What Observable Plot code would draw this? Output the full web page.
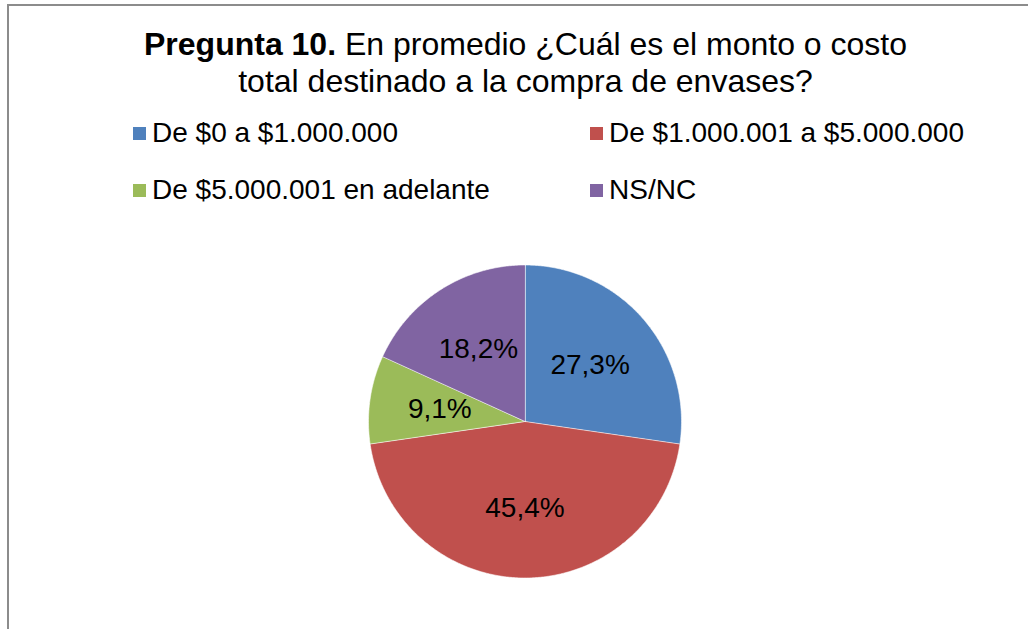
<!DOCTYPE html>
<html><head><meta charset="utf-8">
<script src="https://cdn.jsdelivr.net/npm/d3@7"></script>
<script src="https://cdn.jsdelivr.net/npm/@observablehq/plot@0.6"></script>
<style>
body{margin:0;background:#fff;font-family:"Liberation Sans",Arial,sans-serif;color:#000;}
#wrap{position:relative;width:1028px;height:629px;overflow:hidden;background:#fff;}
#frame{position:absolute;left:7px;top:4px;width:1100px;height:700px;border-left:2px solid #8c8c8c;border-top:2px solid #8c8c8c;}
#chart{position:absolute;left:0;top:0;}
#title{position:absolute;left:0;width:1051px;top:26px;text-align:center;font-size:32px;line-height:37px;}
#legend{position:absolute;left:133px;top:114px;display:grid;grid-template-columns:457px auto;row-gap:19px;font-size:28px;line-height:38px;}
.item{display:flex;align-items:center;white-space:nowrap;}
.sw{width:13px;height:13px;margin-right:6px;flex:none;}
</style></head>
<body>
<div id="wrap">
  <div id="frame"></div>
  <div id="chart"></div>
  <div id="title"><b>Pregunta 10.</b> En promedio ¿Cuál es el monto o costo<br>total destinado a la compra de envases?</div>
  <div id="legend"></div>
</div>
<script>
const categories = ["De $0 a $1.000.000", "De $1.000.001 a $5.000.000", "De $5.000.001 en adelante", "NS/NC"];
const values = [27.3, 45.4, 9.1, 18.2];
const colors = ["#4F81BD", "#C0504D", "#9BBB59", "#8064A2"];

const legend = document.getElementById("legend");
categories.forEach((c, i) => {
  const it = document.createElement("div");
  it.className = "item";
  const sw = document.createElement("span");
  sw.className = "sw";
  sw.style.background = colors[i];
  it.appendChild(sw);
  it.appendChild(document.createTextNode(c));
  legend.appendChild(it);
});

const table = categories.map((c, i) => ({cat: c, value: values[i]}));
const arcs = d3.pie().sort(null).value(d => d.value)(table);

// outline of each slice, sampled along its arc
const outline = [];
arcs.forEach(a => {
  const n = Math.max(2, Math.ceil((a.endAngle - a.startAngle) / 0.01));
  outline.push({cat: a.data.cat, a: null});
  for (let k = 0; k <= n; k++) {
    outline.push({cat: a.data.cat, a: a.startAngle + (a.endAngle - a.startAngle) * k / n});
  }
});
const px = d => d.a == null ? 0 : Math.sin(d.a);
const py = d => d.a == null ? 0 : Math.cos(d.a);

const labelR = 0.55;
const labels = arcs.map(a => {
  const m = (a.startAngle + a.endAngle) / 2;
  return {x: labelR * Math.sin(m), y: labelR * Math.cos(m), text: a.data.value.toFixed(1).replace(".", ",") + "%"};
});

const cx = 524.5, cy = 421, r = 156.5;
const plot = Plot.plot({
  width: 1028,
  height: 629,
  margin: 0,
  style: {fontFamily: "'Liberation Sans', Arial, sans-serif", background: "transparent", overflow: "visible"},
  x: {domain: [-1, 1], range: [cx - r, cx + r], axis: null},
  y: {domain: [-1, 1], range: [cy + r, cy - r], axis: null},
  color: {domain: categories, range: colors},
  marks: [
    Plot.line(outline, {x: px, y: py, z: "cat", fill: "cat", stroke: "#ffffff", strokeWidth: 0.7, strokeOpacity: 0.8, curve: "linear-closed"}),
    Plot.text(labels, {x: "x", y: "y", text: "text", fontSize: 28, fill: "#000"})
  ]
});
document.getElementById("chart").appendChild(plot);
</script>
</body></html>
